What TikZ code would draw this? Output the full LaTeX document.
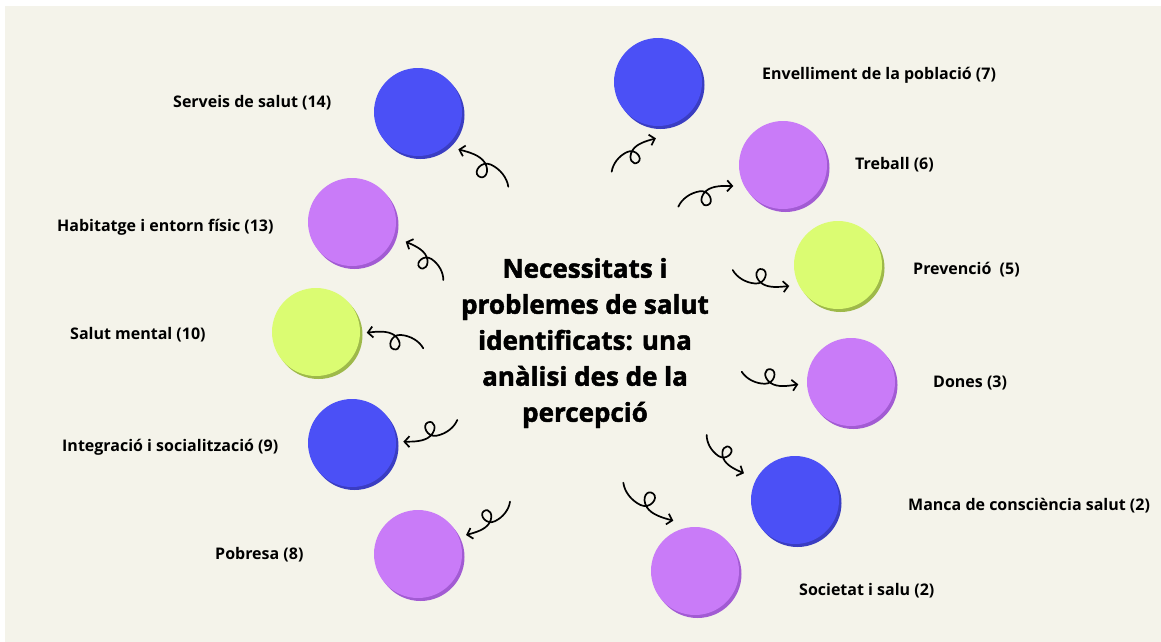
\documentclass[tikz,border=0pt]{standalone}
\usepackage{fontspec}
\setmainfont{Open Sans}
\newfontfamily\titlefont{Open Sans}[BoldFeatures={FakeBold=1.8}]
\usetikzlibrary{arrows.meta}
\definecolor{bg}{HTML}{F4F3EA}
\definecolor{cblue}{HTML}{4B50F6}
\definecolor{cblueS}{HTML}{3A3DC2}
\definecolor{cpurp}{HTML}{C97BF8}
\definecolor{cpurpS}{HTML}{A25BD3}
\definecolor{clime}{HTML}{DBFC72}
\definecolor{climeS}{HTML}{9EB94A}
\tikzset{
  bubble/.style={circle, minimum size=88pt, inner sep=0pt, draw=none},
  lbl/.style={font=\bfseries\fontsize{16}{19}\selectfont, inner sep=0pt, text=black},
  curlstyle/.style={line width=1.7pt, line cap=round, line join=round, black,
    -{Straight Barb[length=5pt,width=11pt]}},
}
% #1 x1, #2 y1, #3 x2, #4 y2 (image coords, y down), #5 mirror (1 or -1)
\newcommand\curlarrow[5]{%
  \pgfmathsetmacro\curlang{atan2((#2)-(#4),(#3)-(#1))}%
  \pgfmathsetmacro\curllen{veclen((#3)-(#1),(#4)-(#2))/60}%
  \draw[curlstyle, shift={(#1,-#2)}, rotate=\curlang, scale=\curllen, yscale=#5]
    (0,0) .. controls (6,6) and (16,9) .. (26,7)
          .. controls (36,5) and (36,-9) .. (29,-9)
          .. controls (22,-9) and (22,1) .. (32,5)
          .. controls (40,8) and (50,4) .. (60,0);%
}
% #1 name, #2 x, #3 y, #4 colour
\newcommand\bubblenode[4]{%
  \node[bubble, fill=#4S] (#1s) at (#2+2.5,-#3-3) {};
  \node[bubble, fill=#4] (#1) at (#2,-#3) {};%
}
\begin{document}
\begin{tikzpicture}[x=1pt,y=1pt]
\useasboundingbox (0,0) rectangle (1161,-642);
\fill[white] (0,0) rectangle (1161,-642);
\fill[bg] (5,-6) rectangle (1161,-642);

% circles
\bubblenode{serveis}{418}{112}{cblue}
\bubblenode{envell}{658}{82}{cblue}
\bubblenode{treball}{783}{165}{cpurp}
\bubblenode{prev}{838}{265}{clime}
\bubblenode{dones}{851}{382}{cpurp}
\bubblenode{manca}{795}{500}{cblue}
\bubblenode{soc}{695}{571}{cpurp}
\bubblenode{pobresa}{418}{554}{cpurp}
\bubblenode{integ}{352}{443}{cblue}
\bubblenode{mental}{316}{332}{clime}
\bubblenode{habit}{352}{222}{cpurp}

% title
\node[font=\titlefont\bfseries\fontsize{26}{36}\selectfont, align=center, inner sep=0pt] (title) at (585,-343)
  {Necessitats i\\problemes de salut\\identificats: una\\anàlisi des de la\\percepció};

% labels
\node[lbl, anchor=west] (lserveis) at (173,-103) {Serveis de salut (14)};
\node[lbl, anchor=west] (lenvell) at (762,-75) {Envelliment de la població (7)};
\node[lbl, anchor=west] (ltreball) at (855,-165) {Treball (6)};
\node[lbl, anchor=west] (lprev) at (913,-270) {Prevenció~ (5)};
\node[lbl, anchor=west] (ldones) at (933,-383) {Dones (3)};
\node[lbl, anchor=west] (lmanca) at (908,-506) {Manca de consciència salut (2)};
\node[lbl, anchor=west] (lsoc) at (799,-591) {Societat i salu (2)};
\node[lbl, anchor=west] (lpobresa) at (215,-555) {Pobresa (8)};
\node[lbl, anchor=west] (linteg) at (62,-447) {Integració i socialització (9)};
\node[lbl, anchor=west] (lmental) at (70,-335) {Salut mental (10)};
\node[lbl, anchor=west] (lhabit) at (57,-227) {Habitatge i entorn físic (13)};

% curly arrows
\curlarrow{508.3}{186.7}{458.3}{149.3}{-1}
\curlarrow{611.7}{171.7}{656}{138.3}{1}
\curlarrow{678.3}{206.7}{733.3}{186}{1}
\curlarrow{732.7}{270}{789.3}{286}{-1}
\curlarrow{741.7}{371.7}{798.3}{384.3}{-1}
\curlarrow{706.7}{435}{744}{473.3}{-1}
\curlarrow{623.3}{482.7}{673.3}{520.7}{-1}
\curlarrow{510}{501.7}{466}{535}{1}
\curlarrow{457.3}{420}{403.3}{441.7}{1}
\curlarrow{423.3}{348.3}{366.7}{332.7}{-1}
\curlarrow{443.3}{280}{405.7}{241.7}{-1}
\end{tikzpicture}
\end{document}
